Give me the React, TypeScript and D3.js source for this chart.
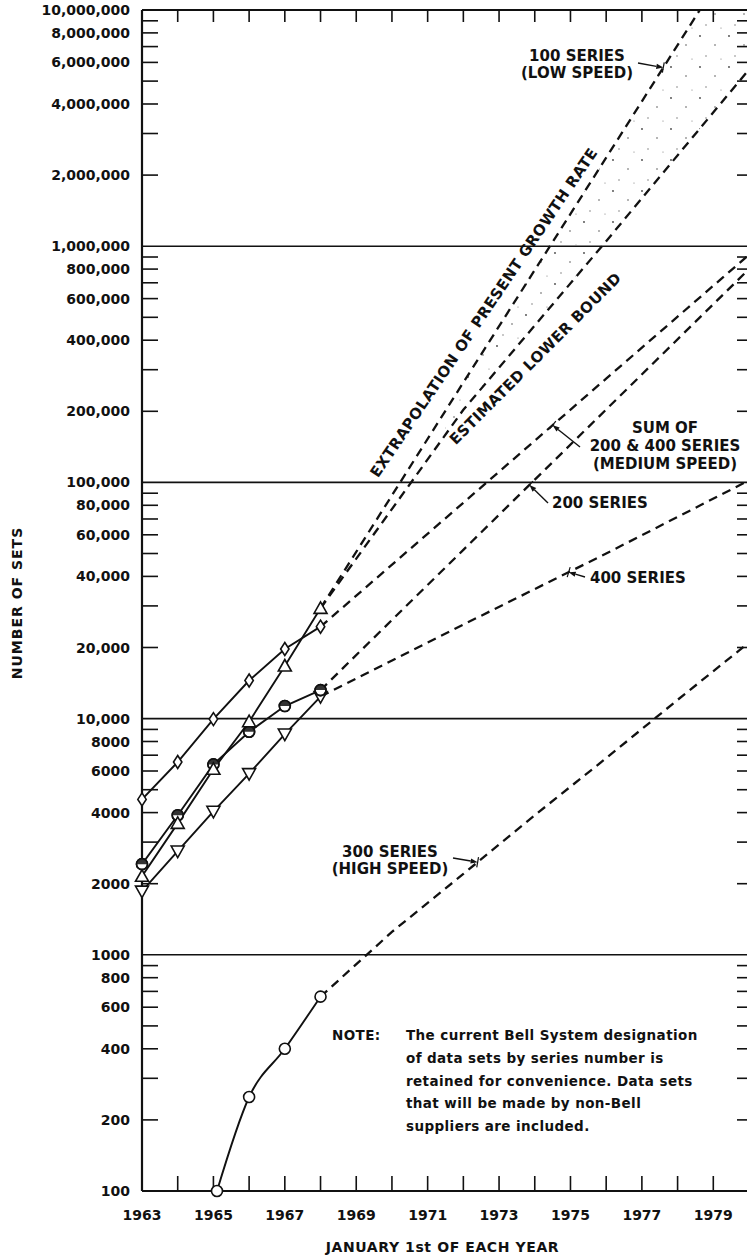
import * as d3 from 'd3';

const W = 747;
const H = 1259;
const M = { left: 142, right: 749, top: 10, bottom: 1191 };
const FONT = '"DejaVu Sans", "Liberation Sans", sans-serif';

// axis ticks and labels
const YEAR_TICKS = d3.range(1963, 1981);
const YEAR_LABELS = [1963, 1965, 1967, 1969, 1971, 1973, 1975, 1977, 1979];
const DECADES = [100, 1000, 10000, 100000, 1000000, 10000000];
const MINOR_STEPS = [2, 3, 4, 5, 6, 7, 8, 9];
const Y_LABELS = [
  100, 200, 400, 600, 800, 1000, 2000, 4000, 6000, 8000, 10000, 20000, 40000, 60000, 80000,
  100000, 200000, 400000, 600000, 800000, 1000000, 2000000, 4000000, 6000000, 8000000, 10000000,
];

// measured data, Jan 1st 1963-1968
const MEASURED_YEARS = [1963, 1964, 1965, 1966, 1967, 1968];
const SUM_200_400 = [4550, 6550, 9950, 14500, 19700, 24500];
const SERIES_100 = [2150, 3600, 6100, 9700, 16700, 29300];
const SERIES_200 = [2420, 3900, 6400, 8800, 11300, 13200];
const SERIES_400 = [1860, 2750, 4050, 5850, 8600, 12400];
const SERIES_300_YEARS = [1965.1, 1966, 1967, 1968];
const SERIES_300 = [100, 250, 400, 665];

// projections
const PROJ_YEARS = [1968, 1972, 1976, 1980];
const EXTRAPOLATION = [29300, 265000, 2370000, 21300000];
const LOWER_BOUND = [29300, 203000, 1050000, 5600000];
const SUM_PROJ = [24500, 82000, 275000, 920000];
const PROJ_200 = [13200, 51800, 203500, 800000];
const PROJ_400 = [12400, 25000, 50000, 102000];
const PROJ_300_YEARS = [1968, 1970, 1972, 1974, 1976, 1978, 1980];
const PROJ_300 = [665, 1250, 2200, 3900, 6800, 12000, 21000];

const NOTE_LINES = [
  'of data sets by series number is',
  'retained for convenience.  Data sets',
  'that will be made by non-Bell',
  'suppliers are included.',
];

const x = d3.scaleLinear().domain([1963, 1980]).range([M.left, M.right]);
const y = d3.scaleLog().domain([100, 10000000]).range([M.bottom, M.top]);

const fmtLabel = (v: number) => (v < 10000 ? String(v) : d3.format(',')(v));

function valueAt(years: number[], values: number[], yr: number) {
  let i = d3.bisectLeft(years, yr);
  i = Math.min(Math.max(i, 1), years.length - 1);
  const t = (yr - years[i - 1]) / (years[i] - years[i - 1]);
  const a = Math.log10(values[i - 1]);
  const b = Math.log10(values[i]);
  return 10 ** (a + t * (b - a));
}

function pt(years: number[], values: number[], yr: number): [number, number] {
  return [x(yr), y(valueAt(years, values, yr))];
}

function lineAngle(years: number[], values: number[], yr: number) {
  const p1 = pt(years, values, yr - 0.3);
  const p2 = pt(years, values, yr + 0.3);
  return Math.atan2(p2[1] - p1[1], p2[0] - p1[0]);
}

const straight = d3.line<[number, number]>().x((d) => x(d[0])).y((d) => y(d[1]));
const curved = d3
  .line<[number, number]>()
  .x((d) => x(d[0]))
  .y((d) => y(d[1]))
  .curve(d3.curveMonotoneX);

const zip = (a: number[], b: number[]) => a.map((v, i) => [v, b[i]] as [number, number]);

function Marker({ kind, cx, cy }: { kind: string; cx: number; cy: number }) {
  const common = { fill: '#fff', stroke: '#111', strokeWidth: 1.6 };
  if (kind === 'diamond')
    return <path d={`M${cx},${cy - 6.5}L${cx + 4.2},${cy}L${cx},${cy + 6.5}L${cx - 4.2},${cy}Z`} {...common} />;
  if (kind === 'up')
    return <path d={`M${cx},${cy - 6.5}L${cx + 6.5},${cy + 5}L${cx - 6.5},${cy + 5}Z`} {...common} />;
  if (kind === 'down')
    return <path d={`M${cx},${cy + 6.5}L${cx + 6.5},${cy - 5}L${cx - 6.5},${cy - 5}Z`} {...common} />;
  if (kind === 'half')
    return (
      <g>
        <circle cx={cx} cy={cy} r={5.5} {...common} />
        <path d={`M${cx - 5.5},${cy}A5.5,5.5 0 0 1 ${cx + 5.5},${cy}Z`} fill="#333" />
        <circle cx={cx} cy={cy} r={5.5} fill="none" stroke="#111" strokeWidth={1.6} />
      </g>
    );
  return <circle cx={cx} cy={cy} r={5.5} {...common} />;
}

function Pointer({ from, to }: { from: [number, number]; to: [number, number] }) {
  const a = Math.atan2(to[1] - from[1], to[0] - from[0]);
  const bx = to[0] - 7 * Math.cos(a);
  const by = to[1] - 7 * Math.sin(a);
  const px = -Math.sin(a) * 2.6;
  const py = Math.cos(a) * 2.6;
  return (
    <g>
      <line x1={from[0]} y1={from[1]} x2={bx} y2={by} stroke="#111" strokeWidth={1.4} />
      <path d={`M${to[0]},${to[1]}L${bx + px},${by + py}L${bx - px},${by - py}Z`} fill="#111" />
      <line
        x1={to[0] - px * 2}
        y1={to[1] - py * 2}
        x2={to[0] + px * 2}
        y2={to[1] + py * 2}
        stroke="#111"
        strokeWidth={1.2}
      />
    </g>
  );
}

function RotatedLabel({
  years,
  values,
  yr,
  offset,
  text,
  size,
  angle,
}: {
  years: number[];
  values: number[];
  yr: number;
  offset: number;
  text: string;
  size: number;
  angle?: number;
}) {
  const a = lineAngle(years, values, yr);
  const p = pt(years, values, yr);
  // normal pointing up-left of a line rising to the right
  const nx = Math.sin(a);
  const ny = -Math.cos(a);
  const cx = p[0] + nx * offset;
  const cy = p[1] + ny * offset;
  const deg = angle ?? (a * 180) / Math.PI;
  return (
    <text
      transform={`translate(${cx},${cy}) rotate(${deg})`}
      textAnchor="middle"
      dominantBaseline="central"
      fontFamily={FONT}
      fontWeight="bold"
      fontSize={size}
      letterSpacing={0.4}
      fill="#111"
    >
      {text}
    </text>
  );
}

export default function App() {
  const minorTicks = DECADES.slice(0, -1).flatMap((d) => MINOR_STEPS.map((s) => d * s));
  const dashed = { fill: 'none', stroke: '#111', strokeWidth: 2.3, strokeDasharray: '9,6' };
  const solid = { fill: 'none', stroke: '#111', strokeWidth: 1.9 };

  const stippleYears = d3.range(1971.5, 1980.01, 0.25);
  const stippleArea = d3
    .area<number>()
    .x((d) => x(d))
    .y0((d) => y(valueAt(PROJ_YEARS, LOWER_BOUND, d)))
    .y1((d) => y(valueAt(PROJ_YEARS, EXTRAPOLATION, d)));

  const measured = [
    { values: SUM_200_400, kind: 'diamond' },
    { values: SERIES_400, kind: 'down' },
    { values: SERIES_200, kind: 'half' },
    { values: SERIES_100, kind: 'up' },
  ];

  const txt = { fontFamily: FONT, fontWeight: 'bold' as const, fill: '#111' };

  return (
    <svg
      width={W}
      height={H}
      viewBox={`0 0 ${W} ${H}`}
      style={{ position: 'absolute', left: 0, top: 0, background: '#fff' }}
    >
      <defs>
        <clipPath id="plot">
          <rect x={M.left} y={M.top} width={M.right - M.left} height={M.bottom - M.top} />
        </clipPath>
        <pattern id="stipple" width={29} height={31} patternUnits="userSpaceOnUse">
          <circle cx={4} cy={5} r={0.9} fill="#444" />
          <circle cx={19} cy={14} r={0.8} fill="#555" />
          <circle cx={10} cy={25} r={0.7} fill="#666" />
          <circle cx={25} cy={28} r={0.6} fill="#777" />
        </pattern>
      </defs>
      <rect width={W} height={H} fill="#fff" />

      {/* decade gridlines */}
      {DECADES.map((d) => (
        <line key={d} x1={M.left} x2={M.right} y1={y(d)} y2={y(d)} stroke="#111" strokeWidth={1.6} />
      ))}
      {/* frame */}
      <line x1={M.left} x2={M.left} y1={M.top} y2={M.bottom} stroke="#111" strokeWidth={2.2} />
      <line x1={M.right} x2={M.right} y1={M.top} y2={M.bottom} stroke="#111" strokeWidth={2.2} />
      <line x1={M.left} x2={M.right} y1={M.bottom} y2={M.bottom} stroke="#111" strokeWidth={2.2} />
      <line x1={M.left} x2={M.right} y1={M.top} y2={M.top} stroke="#111" strokeWidth={2} />

      {/* minor ticks left and right */}
      {minorTicks.map((v) => (
        <g key={v}>
          <line x1={M.left} x2={M.left + 16} y1={y(v)} y2={y(v)} stroke="#111" strokeWidth={1.6} />
          <line x1={M.right - 12} x2={M.right} y1={y(v)} y2={y(v)} stroke="#111" strokeWidth={1.6} />
        </g>
      ))}
      {/* year ticks top and bottom */}
      {YEAR_TICKS.slice(1, -1).map((yr) => (
        <g key={yr}>
          <line x1={x(yr)} x2={x(yr)} y1={M.bottom} y2={M.bottom - 15} stroke="#111" strokeWidth={1.6} />
          <line x1={x(yr)} x2={x(yr)} y1={M.top} y2={M.top + 12} stroke="#111" strokeWidth={1.6} />
        </g>
      ))}

      {/* y labels */}
      {Y_LABELS.map((v) => (
        <text key={v} x={130} y={y(v)} dy="0.36em" textAnchor="end" fontSize={14} {...txt}>
          {fmtLabel(v)}
        </text>
      ))}
      {/* x labels */}
      {YEAR_LABELS.map((yr) => (
        <text key={yr} x={x(yr)} y={1220} textAnchor="middle" fontSize={14} {...txt}>
          {yr}
        </text>
      ))}
      <text
        x={(M.left + M.right) / 2 - 3}
        y={1252}
        textAnchor="middle"
        fontSize={14}
        letterSpacing={0.6}
        {...txt}
      >
        JANUARY 1st OF EACH YEAR
      </text>
      <text
        transform={`translate(22,${603}) rotate(-90)`}
        textAnchor="middle"
        fontSize={14}
        letterSpacing={1}
        {...txt}
      >
        NUMBER OF SETS
      </text>

      <g clipPath="url(#plot)">
        <path d={stippleArea(stippleYears) ?? ''} fill="url(#stipple)" />
        {/* projections */}
        <path d={straight(zip(PROJ_YEARS, EXTRAPOLATION)) ?? ''} {...dashed} />
        <path d={straight(zip(PROJ_YEARS, LOWER_BOUND)) ?? ''} {...dashed} />
        <path d={straight(zip(PROJ_YEARS, SUM_PROJ)) ?? ''} {...dashed} />
        <path d={straight(zip(PROJ_YEARS, PROJ_200)) ?? ''} {...dashed} />
        <path d={straight(zip(PROJ_YEARS, PROJ_400)) ?? ''} {...dashed} />
        <path d={straight(zip(PROJ_300_YEARS, PROJ_300)) ?? ''} {...dashed} />

        {/* measured lines */}
        {measured.map((s) => (
          <path key={s.kind} d={straight(zip(MEASURED_YEARS, s.values)) ?? ''} {...solid} />
        ))}
        <path d={curved(zip(SERIES_300_YEARS, SERIES_300)) ?? ''} {...solid} />
      </g>

      {/* markers */}
      {measured.map((s) =>
        MEASURED_YEARS.map((yr, i) => (
          <Marker key={s.kind + yr} kind={s.kind} cx={x(yr)} cy={y(s.values[i])} />
        ))
      )}
      {SERIES_300_YEARS.map((yr, i) => (
        <Marker key={'o' + yr} kind="open" cx={x(yr)} cy={y(SERIES_300[i])} />
      ))}

      {/* rotated line labels */}
      <RotatedLabel
        years={PROJ_YEARS}
        values={EXTRAPOLATION}
        yr={1973.05}
        offset={20}
        text="EXTRAPOLATION OF PRESENT GROWTH RATE"
        size={15}
        angle={-56}
      />
      <RotatedLabel
        years={PROJ_YEARS}
        values={LOWER_BOUND}
        yr={1973.55}
        offset={-22}
        text="ESTIMATED LOWER BOUND"
        size={15}
        angle={-45}
      />

      {/* series annotations */}
      <text x={577} y={61} textAnchor="middle" fontSize={15} {...txt}>100 SERIES</text>
      <text x={577} y={78} textAnchor="middle" fontSize={15} {...txt}>(LOW SPEED)</text>
      <Pointer from={[638, 63]} to={pt(PROJ_YEARS, EXTRAPOLATION, 1977.6)} />

      <text x={665} y={433} textAnchor="middle" fontSize={15} {...txt}>SUM OF</text>
      <text x={665} y={451} textAnchor="middle" fontSize={15} {...txt}>200 &amp; 400 SERIES</text>
      <text x={665} y={469} textAnchor="middle" fontSize={15} {...txt}>(MEDIUM SPEED)</text>
      <Pointer from={[580, 447]} to={pt(PROJ_YEARS, SUM_PROJ, 1974.5)} />

      <text x={552} y={508} fontSize={15} {...txt}>200 SERIES</text>
      <Pointer from={[548, 503]} to={pt(PROJ_YEARS, PROJ_200, 1973.85)} />

      <text x={590} y={583} fontSize={15} {...txt}>400 SERIES</text>
      <Pointer from={[585, 577]} to={pt(PROJ_YEARS, PROJ_400, 1974.95)} />

      <text x={390} y={857} textAnchor="middle" fontSize={15} {...txt}>300 SERIES</text>
      <text x={390} y={874} textAnchor="middle" fontSize={15} {...txt}>(HIGH SPEED)</text>
      <Pointer from={[453, 858]} to={pt(PROJ_300_YEARS, PROJ_300, 1972.4)} />

      {/* note */}
      <text x={332} y={1040} fontSize={13.5} letterSpacing={0.4} {...txt}>
        NOTE:
      </text>
      <text x={406} y={1040} fontSize={13.5} letterSpacing={0.4} {...txt}>
        The current Bell System designation
      </text>
      {NOTE_LINES.map((line, i) => (
        <text key={i} x={406} y={1063 + i * 22.5} fontSize={13.5} letterSpacing={0.4} {...txt}>
          {line}
        </text>
      ))}
    </svg>
  );
}
